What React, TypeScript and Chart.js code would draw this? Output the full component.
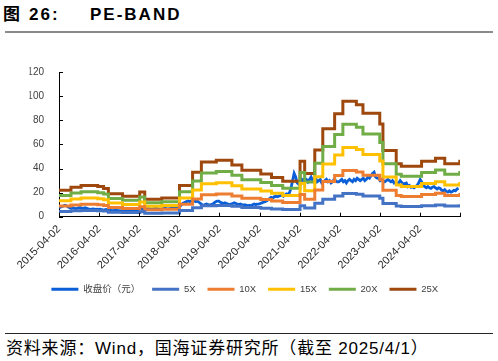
import React, { useEffect, useRef } from 'react';
import { Chart, registerables } from 'chart.js';

Chart.register(...registerables);

const FONT = '"Liberation Sans", Arial, "Noto Sans CJK SC", sans-serif';

// ---- axis ----
const xTickDates = ['2015-04-02', '2016-04-02', '2017-04-02', '2018-04-02', '2019-04-02', '2020-04-02', '2021-04-02', '2022-04-02', '2023-04-02', '2024-04-02', '2025-04-02'];
const xTickLabels = ['2015-04-02', '2016-04-02', '2017-04-02', '2018-04-02', '2019-04-02', '2020-04-02', '2021-04-02', '2022-04-02', '2023-04-02', '2024-04-02', ''];
const yMin = 0;
const yMax = 120;
const yStep = 20;

// ---- series ----
const seriesNames = ['收盘价（元）', '5X', '10X', '15X', '20X', '25X'];
const seriesColors = ['#0a5ed7', '#4472c4', '#ed7d31', '#ffc000', '#70ad47', '#9e480e'];

// close price, one reading every 14 days from closeStartDate
const closeStartDate = '2015-04-02';
const closeIntervalDays = 14;
const closePrice = [
  7.5, 8, 8.5, 9, 9.5, 9, 8, 7.5, 7, 7.5, 7, 6.5, 7, 7.5, 7.5, 7, 7.2, 7.5, 7, 6.5, 6, 6.2, 6.5, 6.3, 6, 6.2,
  6, 6.2, 5.8, 5.5, 5.8, 6, 5.7, 5.5, 5.2, 5, 5.3, 5.5, 5.2, 5, 4.8, 5, 5.2, 5, 4.8, 5, 5.2, 5.4, 5.2, 5, 5.3, 5.5,
  6, 6.5, 6.2, 6, 6.3, 6.5, 6.8, 6.5, 6.3, 6.6, 6.8, 7, 6.8, 6.5, 6.3, 6.5, 6.8, 7, 6.7, 6.5, 6.8, 7, 7.2, 7, 7.5, 8,
  8, 9, 10.5, 11.5, 12, 12.5, 13, 12.5, 13, 13.5, 13, 12.5, 13, 12, 11, 10, 9.5, 10, 10.5, 10, 9.5, 10, 10.5, 11.5, 12.5, 13,
  13, 12, 11.5, 11, 11.5, 11, 10.5, 10, 10.5, 11, 11.5, 11, 10.5, 10, 10.5, 10, 9.5, 10, 9.5, 9, 9.5, 9, 10, 10.5, 10, 10.5,
  10.5, 11, 11.5, 12, 12.5, 13, 14, 15, 16, 15.5, 16.5, 17, 16.5, 17, 17.5, 18, 17, 18, 19, 18.5, 20, 24, 30, 36, 33, 28,
  27, 29, 31, 30, 32, 31, 29, 31, 33, 30, 31, 32, 29, 30, 31, 28, 29, 30, 31, 29, 30, 28, 29, 31, 30, 29,
  29, 30, 31, 29, 30, 28, 30, 31, 30, 29, 31, 30, 32, 31, 30, 31, 32, 30, 31, 33, 32, 34, 36, 37, 33, 32,
  32, 30, 31, 30, 29, 30, 31, 30, 29, 30, 28, 29, 27.5, 28, 30, 28.5, 27, 27.5, 28, 25, 26, 24.5, 25, 24, 25, 26,
  28, 31, 29, 26, 25, 24, 25, 24, 23.5, 24.5, 25, 24, 23, 24, 23.5, 22, 21.5, 22.5, 21, 20.5, 21.5, 20.5, 21, 22, 21.5, 23,
  23.5,
];

// PE band levels, each valid from its date until the next one
const bandDates = [
  '2015-04-02', '2015-07-20', '2015-10-20', '2016-03-20', '2016-05-12', '2016-06-25', '2016-11-01', '2017-04-06',
  '2017-05-22', '2017-10-24', '2018-04-04', '2018-08-01', '2018-10-20', '2019-03-05', '2019-07-25', '2019-10-24',
  '2020-04-13', '2020-07-20', '2020-10-30', '2021-04-06', '2021-05-18', '2021-08-18', '2021-10-30', '2022-02-15',
  '2022-05-01', '2022-09-01', '2022-10-31', '2023-04-02', '2023-05-01', '2023-08-30', '2023-10-15', '2024-04-17',
  '2024-08-22', '2024-11-14', '2025-03-31', '2025-04-02',
];
const band5x = [4.4, 4.9, 5.2, 5, 4.7, 3.8, 3.4, 4.1, 2.9, 3.1, 5.2, 7.4, 9.1, 9.4, 8.6, 7.7, 7.1, 6.5, 5.9, 9.2, 7.2, 11.1, 14.6, 17.1, 19.2, 18.6, 17.2, 15.4, 11, 8.8, 8.4, 9.2, 9.7, 8.8, 9.2, 9.2];
const band10x = [8.8, 9.8, 10.4, 10, 9.4, 7.6, 6.8, 8.2, 5.8, 6.2, 10.4, 14.8, 18.2, 18.8, 17.2, 15.4, 14.2, 13, 11.8, 18.4, 14.4, 22.2, 29.2, 34.2, 38.4, 37.2, 34.4, 30.8, 22, 17.6, 16.8, 18.4, 19.4, 17.6, 18.4, 18.4];
const band15x = [13.2, 14.7, 15.6, 15, 14.1, 11.4, 10.2, 12.3, 8.7, 9.3, 15.6, 22.2, 27.3, 28.2, 25.8, 23.1, 21.3, 19.5, 17.7, 27.6, 21.6, 33.3, 43.8, 51.3, 57.6, 55.8, 51.6, 46.2, 33, 26.4, 25.2, 27.6, 29.1, 26.4, 27.6, 27.6];
const band20x = [17.6, 19.6, 20.8, 20, 18.8, 15.2, 13.6, 16.4, 11.6, 12.4, 20.8, 29.6, 36.4, 37.6, 34.4, 30.8, 28.4, 26, 23.6, 36.8, 28.8, 44.4, 58.4, 68.4, 76.8, 74.4, 68.8, 61.6, 44, 35.2, 33.6, 36.8, 38.8, 35.2, 36.8, 36.8];
const band25x = [22, 24.5, 26, 25, 23.5, 19, 17, 20.5, 14.5, 15.5, 26, 37, 45.5, 47, 43, 38.5, 35.5, 32.5, 29.5, 46, 36, 55.5, 73, 85.5, 96, 93, 86, 77, 55, 44, 42, 46, 48.5, 44, 46, 46];

const DAY = 86400000;
const toMs = (d: string) => Date.parse(d + 'T00:00:00Z');

const innerTicks = {
  id: 'innerTicks',
  afterDraw(chart: any) {
    const { ctx } = chart;
    const xs = chart.scales.x;
    const ys = chart.scales.y;
    ctx.save();
    ctx.strokeStyle = '#000';
    ctx.lineWidth = 1;
    ctx.beginPath();
    ys.ticks.forEach((_t: any, i: number) => {
      const py = Math.round(ys.getPixelForTick(i)) + 0.5;
      ctx.moveTo(ys.right, py);
      ctx.lineTo(ys.right + 4, py);
    });
    xs.ticks.forEach((_t: any, i: number) => {
      const px = Math.round(xs.getPixelForTick(i)) + 0.5;
      ctx.moveTo(px, xs.top);
      ctx.lineTo(px, xs.top - 4);
    });
    ctx.stroke();
    ctx.restore();
  },
};

export default function App() {
  const ref = useRef<HTMLCanvasElement | null>(null);

  useEffect(() => {
    if (!ref.current) return;
    const t0 = toMs(closeStartDate);
    const closePts = closePrice.map((v, i) => ({ x: t0 + i * closeIntervalDays * DAY, y: v }));
    const bandPts = (arr: number[]) => arr.map((v, i) => ({ x: toMs(bandDates[i]), y: v }));
    const bands = [band5x, band10x, band15x, band20x, band25x];

    const datasets: any[] = [
      {
        label: seriesNames[0],
        data: closePts,
        borderColor: seriesColors[0],
        backgroundColor: seriesColors[0],
        borderWidth: 2.8,
        pointRadius: 0,
        tension: 0,
        order: 1,
      },
      ...bands.map((b, k) => ({
        label: seriesNames[k + 1],
        data: bandPts(b),
        borderColor: seriesColors[k + 1],
        backgroundColor: seriesColors[k + 1],
        borderWidth: 3,
        pointRadius: 0,
        stepped: 'before',
        order: 0,
      })),
    ];

    const chart = new Chart(ref.current, {
      type: 'line',
      data: { datasets },
      plugins: [innerTicks],
      options: {
        animation: false,
        responsive: false,
        devicePixelRatio: 1,
        layout: { padding: { left: 29.5, right: 38, top: 32.3, bottom: 1 } },
        plugins: {
          tooltip: { enabled: false },
          legend: {
            position: 'bottom',
            labels: {
              boxWidth: 27,
              boxHeight: 3,
              padding: 12,
              color: '#404040',
              font: { size: 9.5, family: FONT },
              sort: (a: any, b: any) => a.datasetIndex - b.datasetIndex,
              generateLabels: (c: any) =>
                (Chart.defaults.plugins.legend.labels as any).generateLabels(c).map((l: any) => ({
                  ...l,
                  lineWidth: 0,
                  fillStyle: l.strokeStyle,
                })),
            },
          },
        },
        scales: {
          x: {
            type: 'linear',
            min: toMs(xTickDates[0]),
            max: toMs(xTickDates[xTickDates.length - 1]),
            afterBuildTicks: (s: any) => {
              s.ticks = xTickDates.map((d) => ({ value: toMs(d) }));
            },
            afterFit: (s: any) => {
              s.height = 55.8;
            },
            grid: { display: false, drawTicks: false },
            border: { display: true, color: '#000', width: 1 },
            ticks: {
              autoSkip: false,
              minRotation: 45,
              maxRotation: 45,
              padding: 6,
              color: '#262626',
              font: { size: 11, family: FONT },
              callback: (_v: any, i: number) => xTickLabels[i],
            },
          },
          y: {
            min: yMin,
            max: yMax,
            afterFit: (s: any) => {
              s.width = 59 - 29.5;
            },
            grid: { display: false, drawTicks: false },
            border: { display: true, color: '#000', width: 1 },
            ticks: {
              stepSize: yStep,
              padding: 15,
              color: '#404040',
              font: { size: 10, family: FONT },
            },
          },
        },
      },
    } as any);
    return () => chart.destroy();
  }, []);

  return (
    <div style={{ position: 'absolute', left: 0, top: 0, width: 498, height: 361, background: '#fff', overflow: 'hidden', fontFamily: FONT }}>
      <div style={{ position: 'absolute', left: 3, top: 6, font: `bold 17px ${FONT}`, lineHeight: '17px', letterSpacing: '2px', color: '#000', whiteSpace: 'pre' }}>图</div>
      <div style={{ position: 'absolute', left: 29, top: 6, font: `bold 17px ${FONT}`, lineHeight: '17px', letterSpacing: '2px', color: '#000', whiteSpace: 'pre' }}>26:</div>
      <div style={{ position: 'absolute', left: 90, top: 6, font: `bold 17px ${FONT}`, lineHeight: '17px', letterSpacing: '2px', color: '#000', whiteSpace: 'pre' }}>PE-BAND</div>
      <div style={{ position: 'absolute', left: 5, top: 31, width: 488, height: 2, background: '#8a8a8a' }} />
      <canvas ref={ref} width={498} height={265} style={{ position: 'absolute', left: 0, top: 40, width: 498, height: 265 }} />
      <div style={{ position: 'absolute', left: 5, top: 333, width: 488, height: 1, background: '#262626' }} />
      <div style={{ position: 'absolute', left: 6, top: 339.5, font: `17px ${FONT}`, lineHeight: '17px', letterSpacing: '0.8px', color: '#000', whiteSpace: 'pre' }}>资料来源：Wind，国海证券研究所（截至 2025/4/1）</div>
    </div>
  );
}
